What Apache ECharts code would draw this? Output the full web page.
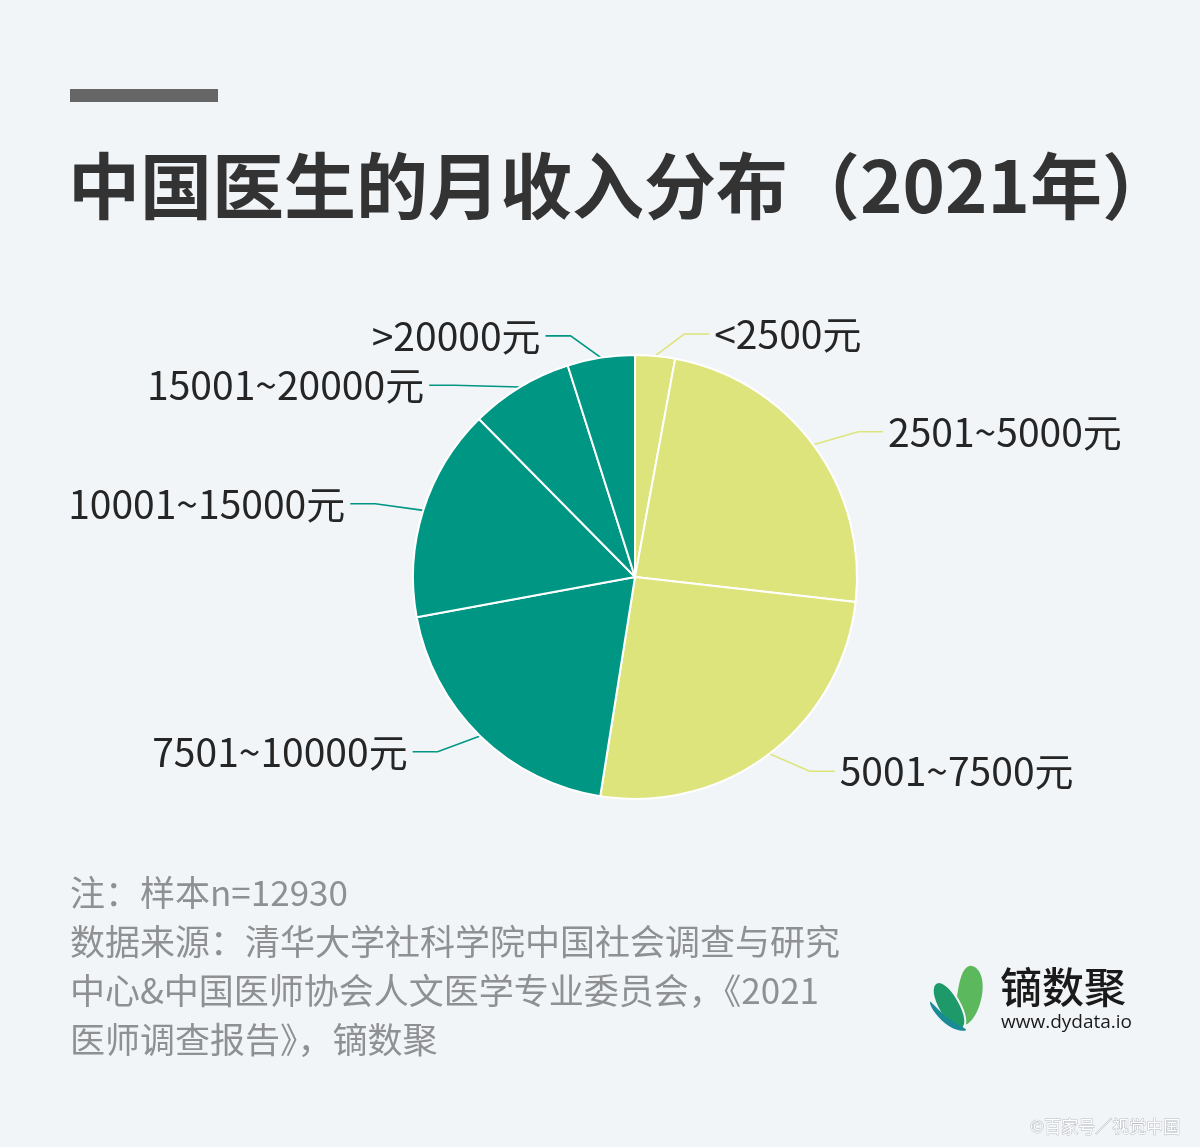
<!DOCTYPE html>
<html><head><meta charset="utf-8">
<script src="https://cdn.jsdelivr.net/npm/echarts@6/dist/echarts.min.js"></script>
<style>html,body{margin:0;padding:0;background:#f2f5f8;}#c{width:1200px;height:1147px;}</style>
</head><body><div id="c"></div>
<script>
const categories = ['<2500元','2501~5000元','5001~7500元','7501~10000元','10001~15000元','15001~20000元','>20000元'];
const shares = [2.9, 23.9, 25.7, 19.6, 15.5, 7.5, 4.9];
const sliceColors = ['#dde47b','#dde47b','#dde47b','#009684','#009684','#009684','#009684'];
const titleText = '中国医生的月收入分布（2021年）';
const noteLines = ['注：样本n=12930','数据来源：清华大学社科学院中国社会调查与研究','中心&中国医师协会人文医学专业委员会，《2021','医师调查报告》，镝数聚'];

const chart = echarts.init(document.getElementById('c'), null, {renderer:'canvas'});
const font = '"Noto Sans CJK SC","Noto Sans",sans-serif';
const lineLen = [22, 22, 22, 22, 22, 2, 22];
const lineLen2 = [52, 52, 52, 52, 52, 90, 52];
chart.setOption({
  backgroundColor:'#f2f5f8',
  animation:false,
  graphic:[
    {type:'rect', shape:{x:70,y:89,width:148,height:13}, style:{fill:'#666666'}},
    {type:'text', x:68, y:150, style:{text:titleText, font:'bold 72px '+font, fill:'#333333'}},
    {type:'text', x:70, y:868, style:{text:noteLines.join('\n'), font:'35px '+font, fill:'#8e9092', lineHeight:49}},
    {type:'polygon', shape:{points:[[972,966],[958,990],[962,1025],[982,995]], smooth:0.6}, style:{fill:'#5cb85c'}},
    {type:'polygon', shape:{points:[[936,983],[940,1012],[962,1029],[958,1000]], smooth:0.6}, style:{fill:'#1e9a6a', stroke:'#f2f5f8', lineWidth:2}},
    {type:'polygon', shape:{points:[[930,1002],[946,1024],[966,1030],[948,1018]], smooth:0.6}, style:{fill:'#1a8a96'}},
    {type:'text', x:1000, y:966, style:{text:'镝数聚', font:'500 42px '+font, fill:'#1a1a1a'}},
    {type:'text', x:1001, y:1013, style:{text:'www.dydata.io', font:'19px "Open Sans",sans-serif', fill:'#1a1a1a'}},
    {type:'text', x:1030, y:1118, style:{text:'©百家号／视觉中国', font:'17px '+font, fill:'#ffffff', stroke:'#b8bcc0', lineWidth:1}}
  ],
  series:[{
    type:'pie',
    center:[635,577],
    radius:[0,222],
    startAngle:90,
    clockwise:true,
    avoidLabelOverlap:false,
    itemStyle:{borderColor:'#ffffff', borderWidth:2},
    label:{show:true, position:'outside', fontSize:39, fontFamily:font, color:'#252525', formatter:'{b}'},
    labelLine:{show:true, length:22, length2:52, smooth:false, lineStyle:{width:1.6}},
    labelLayout:function(p){
      const pts = p.labelLinePoints;
      if(!pts || pts.length < 3) return {};
      const dir = pts[2][0] < pts[1][0] ? -1 : 1;
      return {labelLinePoints:[pts[0], [pts[2][0] - dir*25, pts[2][1]], pts[2]]};
    },
    data: categories.map((n,i)=>({name:n, value:shares[i], itemStyle:{color:sliceColors[i]},
      labelLine:{length:lineLen[i], length2:lineLen2[i], lineStyle:{color:sliceColors[i]}}}))
  }]
});
</script></body></html>
